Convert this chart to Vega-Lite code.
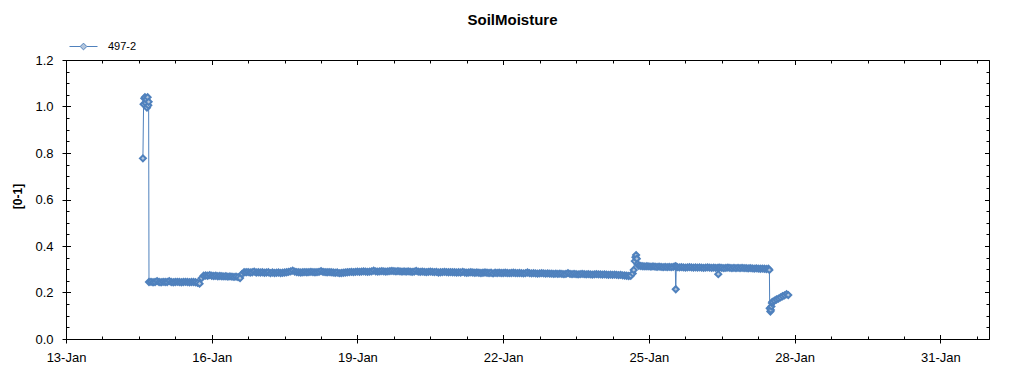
{
  "$schema": "https://vega.github.io/schema/vega-lite/v6.json",
  "width": 923,
  "height": 279,
  "autosize": "none",
  "padding": {"left": 66, "top": 60, "right": 35, "bottom": 36},
  "background": "white",
  "config": {
    "view": {"stroke": null},
    "font": "Liberation Sans",
    "axis": {"grid": false, "domainColor": "#000", "tickColor": "#000", "labelColor": "#000", "titleColor": "#000", "labelFont": "Liberation Sans", "titleFont": "Liberation Sans", "tickWidth": 1, "domainWidth": 1}
  },
  "title": {"text": "SoilMoisture", "font": "Liberation Sans", "fontSize": 15, "fontWeight": "bold", "color": "#000", "anchor": "middle", "frame": "group", "dx": -15, "dy": 15, "offset": 7, "baseline": "alphabetic"},
  "datasets": {
    "soil": [
      {"t": "2024-01-14T14:00", "v": 0.777},
      {"t": "2024-01-14T14:20", "v": 1.01},
      {"t": "2024-01-14T14:40", "v": 1.035},
      {"t": "2024-01-14T15:00", "v": 1.04},
      {"t": "2024-01-14T15:20", "v": 1.015},
      {"t": "2024-01-14T15:40", "v": 1.03},
      {"t": "2024-01-14T16:00", "v": 0.995},
      {"t": "2024-01-14T16:20", "v": 1.04},
      {"t": "2024-01-14T16:40", "v": 1.005},
      {"t": "2024-01-14T16:50", "v": 1.02},
      {"t": "2024-01-14T17:00", "v": 0.245},
      {"t": "2024-01-14T18:00", "v": 0.246},
      {"t": "2024-01-14T19:00", "v": 0.244},
      {"t": "2024-01-14T20:00", "v": 0.245},
      {"t": "2024-01-14T21:00", "v": 0.249},
      {"t": "2024-01-14T22:00", "v": 0.245},
      {"t": "2024-01-14T23:00", "v": 0.244},
      {"t": "2024-01-15T00:00", "v": 0.246},
      {"t": "2024-01-15T01:00", "v": 0.245},
      {"t": "2024-01-15T02:00", "v": 0.245},
      {"t": "2024-01-15T03:00", "v": 0.249},
      {"t": "2024-01-15T04:00", "v": 0.245},
      {"t": "2024-01-15T05:00", "v": 0.244},
      {"t": "2024-01-15T06:00", "v": 0.245},
      {"t": "2024-01-15T07:00", "v": 0.246},
      {"t": "2024-01-15T08:00", "v": 0.245},
      {"t": "2024-01-15T09:00", "v": 0.244},
      {"t": "2024-01-15T10:00", "v": 0.245},
      {"t": "2024-01-15T11:00", "v": 0.246},
      {"t": "2024-01-15T12:00", "v": 0.245},
      {"t": "2024-01-15T13:00", "v": 0.244},
      {"t": "2024-01-15T14:00", "v": 0.245},
      {"t": "2024-01-15T15:00", "v": 0.245},
      {"t": "2024-01-15T16:00", "v": 0.244},
      {"t": "2024-01-15T17:00", "v": 0.242},
      {"t": "2024-01-15T18:00", "v": 0.238},
      {"t": "2024-01-15T19:00", "v": 0.262},
      {"t": "2024-01-15T20:00", "v": 0.272},
      {"t": "2024-01-15T21:00", "v": 0.273},
      {"t": "2024-01-15T22:00", "v": 0.272},
      {"t": "2024-01-15T23:00", "v": 0.275},
      {"t": "2024-01-16T00:00", "v": 0.272},
      {"t": "2024-01-16T01:00", "v": 0.271},
      {"t": "2024-01-16T02:00", "v": 0.272},
      {"t": "2024-01-16T03:00", "v": 0.270},
      {"t": "2024-01-16T04:00", "v": 0.271},
      {"t": "2024-01-16T05:00", "v": 0.270},
      {"t": "2024-01-16T06:00", "v": 0.269},
      {"t": "2024-01-16T07:00", "v": 0.270},
      {"t": "2024-01-16T08:00", "v": 0.268},
      {"t": "2024-01-16T09:00", "v": 0.269},
      {"t": "2024-01-16T10:00", "v": 0.268},
      {"t": "2024-01-16T11:00", "v": 0.267},
      {"t": "2024-01-16T12:00", "v": 0.268},
      {"t": "2024-01-16T13:00", "v": 0.266},
      {"t": "2024-01-16T14:00", "v": 0.262},
      {"t": "2024-01-16T15:00", "v": 0.280},
      {"t": "2024-01-16T16:00", "v": 0.287},
      {"t": "2024-01-16T17:00", "v": 0.287},
      {"t": "2024-01-16T18:00", "v": 0.288},
      {"t": "2024-01-16T19:00", "v": 0.286},
      {"t": "2024-01-16T20:00", "v": 0.287},
      {"t": "2024-01-16T21:00", "v": 0.290},
      {"t": "2024-01-16T22:00", "v": 0.286},
      {"t": "2024-01-16T23:00", "v": 0.287},
      {"t": "2024-01-17T00:00", "v": 0.286},
      {"t": "2024-01-17T01:00", "v": 0.287},
      {"t": "2024-01-17T02:00", "v": 0.285},
      {"t": "2024-01-17T03:00", "v": 0.286},
      {"t": "2024-01-17T04:00", "v": 0.287},
      {"t": "2024-01-17T05:00", "v": 0.283},
      {"t": "2024-01-17T06:00", "v": 0.286},
      {"t": "2024-01-17T07:00", "v": 0.284},
      {"t": "2024-01-17T08:00", "v": 0.285},
      {"t": "2024-01-17T09:00", "v": 0.286},
      {"t": "2024-01-17T10:00", "v": 0.284},
      {"t": "2024-01-17T11:00", "v": 0.285},
      {"t": "2024-01-17T12:00", "v": 0.286},
      {"t": "2024-01-17T13:00", "v": 0.287},
      {"t": "2024-01-17T14:00", "v": 0.289},
      {"t": "2024-01-17T15:00", "v": 0.291},
      {"t": "2024-01-17T16:00", "v": 0.294},
      {"t": "2024-01-17T17:00", "v": 0.290},
      {"t": "2024-01-17T18:00", "v": 0.288},
      {"t": "2024-01-17T19:00", "v": 0.287},
      {"t": "2024-01-17T20:00", "v": 0.286},
      {"t": "2024-01-17T21:00", "v": 0.287},
      {"t": "2024-01-17T22:00", "v": 0.288},
      {"t": "2024-01-17T23:00", "v": 0.287},
      {"t": "2024-01-18T00:00", "v": 0.288},
      {"t": "2024-01-18T01:00", "v": 0.289},
      {"t": "2024-01-18T02:00", "v": 0.288},
      {"t": "2024-01-18T03:00", "v": 0.287},
      {"t": "2024-01-18T04:00", "v": 0.288},
      {"t": "2024-01-18T05:00", "v": 0.289},
      {"t": "2024-01-18T06:00", "v": 0.292},
      {"t": "2024-01-18T07:00", "v": 0.289},
      {"t": "2024-01-18T08:00", "v": 0.288},
      {"t": "2024-01-18T09:00", "v": 0.287},
      {"t": "2024-01-18T10:00", "v": 0.288},
      {"t": "2024-01-18T11:00", "v": 0.287},
      {"t": "2024-01-18T12:00", "v": 0.286},
      {"t": "2024-01-18T13:00", "v": 0.285},
      {"t": "2024-01-18T14:00", "v": 0.286},
      {"t": "2024-01-18T15:00", "v": 0.283},
      {"t": "2024-01-18T16:00", "v": 0.284},
      {"t": "2024-01-18T17:00", "v": 0.285},
      {"t": "2024-01-18T18:00", "v": 0.286},
      {"t": "2024-01-18T19:00", "v": 0.287},
      {"t": "2024-01-18T20:00", "v": 0.288},
      {"t": "2024-01-18T21:00", "v": 0.289},
      {"t": "2024-01-18T22:00", "v": 0.288},
      {"t": "2024-01-18T23:00", "v": 0.289},
      {"t": "2024-01-19T00:00", "v": 0.290},
      {"t": "2024-01-19T01:00", "v": 0.289},
      {"t": "2024-01-19T02:00", "v": 0.290},
      {"t": "2024-01-19T03:00", "v": 0.291},
      {"t": "2024-01-19T04:00", "v": 0.290},
      {"t": "2024-01-19T05:00", "v": 0.289},
      {"t": "2024-01-19T06:00", "v": 0.290},
      {"t": "2024-01-19T07:00", "v": 0.291},
      {"t": "2024-01-19T08:00", "v": 0.294},
      {"t": "2024-01-19T09:00", "v": 0.291},
      {"t": "2024-01-19T10:00", "v": 0.290},
      {"t": "2024-01-19T11:00", "v": 0.291},
      {"t": "2024-01-19T12:00", "v": 0.292},
      {"t": "2024-01-19T13:00", "v": 0.291},
      {"t": "2024-01-19T14:00", "v": 0.290},
      {"t": "2024-01-19T15:00", "v": 0.291},
      {"t": "2024-01-19T16:00", "v": 0.292},
      {"t": "2024-01-19T17:00", "v": 0.293},
      {"t": "2024-01-19T18:00", "v": 0.292},
      {"t": "2024-01-19T19:00", "v": 0.291},
      {"t": "2024-01-19T20:00", "v": 0.292},
      {"t": "2024-01-19T21:00", "v": 0.291},
      {"t": "2024-01-19T22:00", "v": 0.290},
      {"t": "2024-01-19T23:00", "v": 0.291},
      {"t": "2024-01-20T00:00", "v": 0.290},
      {"t": "2024-01-20T01:00", "v": 0.291},
      {"t": "2024-01-20T02:00", "v": 0.290},
      {"t": "2024-01-20T03:00", "v": 0.289},
      {"t": "2024-01-20T04:00", "v": 0.290},
      {"t": "2024-01-20T05:00", "v": 0.293},
      {"t": "2024-01-20T06:00", "v": 0.290},
      {"t": "2024-01-20T07:00", "v": 0.289},
      {"t": "2024-01-20T08:00", "v": 0.290},
      {"t": "2024-01-20T09:00", "v": 0.289},
      {"t": "2024-01-20T10:00", "v": 0.288},
      {"t": "2024-01-20T11:00", "v": 0.289},
      {"t": "2024-01-20T12:00", "v": 0.290},
      {"t": "2024-01-20T13:00", "v": 0.289},
      {"t": "2024-01-20T14:00", "v": 0.288},
      {"t": "2024-01-20T15:00", "v": 0.289},
      {"t": "2024-01-20T16:00", "v": 0.286},
      {"t": "2024-01-20T17:00", "v": 0.287},
      {"t": "2024-01-20T18:00", "v": 0.288},
      {"t": "2024-01-20T19:00", "v": 0.289},
      {"t": "2024-01-20T20:00", "v": 0.288},
      {"t": "2024-01-20T21:00", "v": 0.287},
      {"t": "2024-01-20T22:00", "v": 0.288},
      {"t": "2024-01-20T23:00", "v": 0.287},
      {"t": "2024-01-21T00:00", "v": 0.287},
      {"t": "2024-01-21T01:00", "v": 0.286},
      {"t": "2024-01-21T02:00", "v": 0.287},
      {"t": "2024-01-21T03:00", "v": 0.286},
      {"t": "2024-01-21T04:00", "v": 0.289},
      {"t": "2024-01-21T05:00", "v": 0.286},
      {"t": "2024-01-21T06:00", "v": 0.285},
      {"t": "2024-01-21T07:00", "v": 0.286},
      {"t": "2024-01-21T08:00", "v": 0.287},
      {"t": "2024-01-21T09:00", "v": 0.286},
      {"t": "2024-01-21T10:00", "v": 0.285},
      {"t": "2024-01-21T11:00", "v": 0.286},
      {"t": "2024-01-21T12:00", "v": 0.285},
      {"t": "2024-01-21T13:00", "v": 0.284},
      {"t": "2024-01-21T14:00", "v": 0.285},
      {"t": "2024-01-21T15:00", "v": 0.286},
      {"t": "2024-01-21T16:00", "v": 0.285},
      {"t": "2024-01-21T17:00", "v": 0.284},
      {"t": "2024-01-21T18:00", "v": 0.285},
      {"t": "2024-01-21T19:00", "v": 0.282},
      {"t": "2024-01-21T20:00", "v": 0.285},
      {"t": "2024-01-21T21:00", "v": 0.284},
      {"t": "2024-01-21T22:00", "v": 0.285},
      {"t": "2024-01-21T23:00", "v": 0.284},
      {"t": "2024-01-22T00:00", "v": 0.284},
      {"t": "2024-01-22T01:00", "v": 0.285},
      {"t": "2024-01-22T02:00", "v": 0.284},
      {"t": "2024-01-22T03:00", "v": 0.283},
      {"t": "2024-01-22T04:00", "v": 0.284},
      {"t": "2024-01-22T05:00", "v": 0.285},
      {"t": "2024-01-22T06:00", "v": 0.284},
      {"t": "2024-01-22T07:00", "v": 0.283},
      {"t": "2024-01-22T08:00", "v": 0.284},
      {"t": "2024-01-22T09:00", "v": 0.283},
      {"t": "2024-01-22T10:00", "v": 0.282},
      {"t": "2024-01-22T11:00", "v": 0.283},
      {"t": "2024-01-22T12:00", "v": 0.286},
      {"t": "2024-01-22T13:00", "v": 0.283},
      {"t": "2024-01-22T14:00", "v": 0.282},
      {"t": "2024-01-22T15:00", "v": 0.283},
      {"t": "2024-01-22T16:00", "v": 0.282},
      {"t": "2024-01-22T17:00", "v": 0.281},
      {"t": "2024-01-22T18:00", "v": 0.282},
      {"t": "2024-01-22T19:00", "v": 0.283},
      {"t": "2024-01-22T20:00", "v": 0.282},
      {"t": "2024-01-22T21:00", "v": 0.281},
      {"t": "2024-01-22T22:00", "v": 0.282},
      {"t": "2024-01-22T23:00", "v": 0.281},
      {"t": "2024-01-23T00:00", "v": 0.281},
      {"t": "2024-01-23T01:00", "v": 0.280},
      {"t": "2024-01-23T02:00", "v": 0.281},
      {"t": "2024-01-23T03:00", "v": 0.280},
      {"t": "2024-01-23T04:00", "v": 0.281},
      {"t": "2024-01-23T05:00", "v": 0.280},
      {"t": "2024-01-23T06:00", "v": 0.279},
      {"t": "2024-01-23T07:00", "v": 0.280},
      {"t": "2024-01-23T08:00", "v": 0.283},
      {"t": "2024-01-23T09:00", "v": 0.280},
      {"t": "2024-01-23T10:00", "v": 0.279},
      {"t": "2024-01-23T11:00", "v": 0.280},
      {"t": "2024-01-23T12:00", "v": 0.279},
      {"t": "2024-01-23T13:00", "v": 0.278},
      {"t": "2024-01-23T14:00", "v": 0.279},
      {"t": "2024-01-23T15:00", "v": 0.280},
      {"t": "2024-01-23T16:00", "v": 0.279},
      {"t": "2024-01-23T17:00", "v": 0.278},
      {"t": "2024-01-23T18:00", "v": 0.279},
      {"t": "2024-01-23T19:00", "v": 0.278},
      {"t": "2024-01-23T20:00", "v": 0.277},
      {"t": "2024-01-23T21:00", "v": 0.278},
      {"t": "2024-01-23T22:00", "v": 0.279},
      {"t": "2024-01-23T23:00", "v": 0.278},
      {"t": "2024-01-24T00:00", "v": 0.278},
      {"t": "2024-01-24T01:00", "v": 0.277},
      {"t": "2024-01-24T02:00", "v": 0.278},
      {"t": "2024-01-24T03:00", "v": 0.277},
      {"t": "2024-01-24T04:00", "v": 0.276},
      {"t": "2024-01-24T05:00", "v": 0.277},
      {"t": "2024-01-24T06:00", "v": 0.276},
      {"t": "2024-01-24T07:00", "v": 0.277},
      {"t": "2024-01-24T08:00", "v": 0.276},
      {"t": "2024-01-24T09:00", "v": 0.275},
      {"t": "2024-01-24T10:00", "v": 0.276},
      {"t": "2024-01-24T11:00", "v": 0.274},
      {"t": "2024-01-24T12:00", "v": 0.273},
      {"t": "2024-01-24T13:00", "v": 0.272},
      {"t": "2024-01-24T14:00", "v": 0.271},
      {"t": "2024-01-24T15:00", "v": 0.272},
      {"t": "2024-01-24T16:00", "v": 0.282},
      {"t": "2024-01-24T16:30", "v": 0.297},
      {"t": "2024-01-24T17:00", "v": 0.335},
      {"t": "2024-01-24T17:20", "v": 0.352},
      {"t": "2024-01-24T17:40", "v": 0.361},
      {"t": "2024-01-24T18:00", "v": 0.345},
      {"t": "2024-01-24T18:30", "v": 0.322},
      {"t": "2024-01-24T19:00", "v": 0.315},
      {"t": "2024-01-24T20:00", "v": 0.314},
      {"t": "2024-01-24T21:00", "v": 0.313},
      {"t": "2024-01-24T22:00", "v": 0.312},
      {"t": "2024-01-24T23:00", "v": 0.313},
      {"t": "2024-01-25T00:00", "v": 0.312},
      {"t": "2024-01-25T01:00", "v": 0.311},
      {"t": "2024-01-25T02:00", "v": 0.312},
      {"t": "2024-01-25T03:00", "v": 0.311},
      {"t": "2024-01-25T04:00", "v": 0.310},
      {"t": "2024-01-25T05:00", "v": 0.311},
      {"t": "2024-01-25T06:00", "v": 0.310},
      {"t": "2024-01-25T07:00", "v": 0.309},
      {"t": "2024-01-25T08:00", "v": 0.310},
      {"t": "2024-01-25T09:00", "v": 0.309},
      {"t": "2024-01-25T10:00", "v": 0.310},
      {"t": "2024-01-25T11:00", "v": 0.309},
      {"t": "2024-01-25T12:00", "v": 0.310},
      {"t": "2024-01-25T13:00", "v": 0.313},
      {"t": "2024-01-25T13:15", "v": 0.214},
      {"t": "2024-01-25T13:30", "v": 0.311},
      {"t": "2024-01-25T14:00", "v": 0.309},
      {"t": "2024-01-25T15:00", "v": 0.308},
      {"t": "2024-01-25T16:00", "v": 0.309},
      {"t": "2024-01-25T17:00", "v": 0.308},
      {"t": "2024-01-25T18:00", "v": 0.307},
      {"t": "2024-01-25T19:00", "v": 0.308},
      {"t": "2024-01-25T20:00", "v": 0.309},
      {"t": "2024-01-25T21:00", "v": 0.308},
      {"t": "2024-01-25T22:00", "v": 0.307},
      {"t": "2024-01-25T23:00", "v": 0.308},
      {"t": "2024-01-26T00:00", "v": 0.307},
      {"t": "2024-01-26T01:00", "v": 0.308},
      {"t": "2024-01-26T02:00", "v": 0.307},
      {"t": "2024-01-26T03:00", "v": 0.306},
      {"t": "2024-01-26T04:00", "v": 0.307},
      {"t": "2024-01-26T05:00", "v": 0.308},
      {"t": "2024-01-26T06:00", "v": 0.307},
      {"t": "2024-01-26T07:00", "v": 0.306},
      {"t": "2024-01-26T08:00", "v": 0.307},
      {"t": "2024-01-26T09:00", "v": 0.306},
      {"t": "2024-01-26T10:00", "v": 0.306},
      {"t": "2024-01-26T10:15", "v": 0.279},
      {"t": "2024-01-26T10:30", "v": 0.306},
      {"t": "2024-01-26T11:00", "v": 0.307},
      {"t": "2024-01-26T12:00", "v": 0.306},
      {"t": "2024-01-26T13:00", "v": 0.305},
      {"t": "2024-01-26T14:00", "v": 0.306},
      {"t": "2024-01-26T15:00", "v": 0.307},
      {"t": "2024-01-26T16:00", "v": 0.306},
      {"t": "2024-01-26T17:00", "v": 0.305},
      {"t": "2024-01-26T18:00", "v": 0.306},
      {"t": "2024-01-26T19:00", "v": 0.305},
      {"t": "2024-01-26T20:00", "v": 0.306},
      {"t": "2024-01-26T21:00", "v": 0.305},
      {"t": "2024-01-26T22:00", "v": 0.306},
      {"t": "2024-01-26T23:00", "v": 0.305},
      {"t": "2024-01-27T00:00", "v": 0.305},
      {"t": "2024-01-27T01:00", "v": 0.304},
      {"t": "2024-01-27T02:00", "v": 0.305},
      {"t": "2024-01-27T03:00", "v": 0.304},
      {"t": "2024-01-27T04:00", "v": 0.303},
      {"t": "2024-01-27T05:00", "v": 0.304},
      {"t": "2024-01-27T06:00", "v": 0.303},
      {"t": "2024-01-27T07:00", "v": 0.302},
      {"t": "2024-01-27T08:00", "v": 0.303},
      {"t": "2024-01-27T09:00", "v": 0.302},
      {"t": "2024-01-27T10:00", "v": 0.301},
      {"t": "2024-01-27T11:00", "v": 0.302},
      {"t": "2024-01-27T11:30", "v": 0.297},
      {"t": "2024-01-27T11:40", "v": 0.132},
      {"t": "2024-01-27T12:00", "v": 0.118},
      {"t": "2024-01-27T12:15", "v": 0.125},
      {"t": "2024-01-27T12:30", "v": 0.140},
      {"t": "2024-01-27T12:45", "v": 0.155},
      {"t": "2024-01-27T13:00", "v": 0.160},
      {"t": "2024-01-27T14:00", "v": 0.165},
      {"t": "2024-01-27T15:00", "v": 0.170},
      {"t": "2024-01-27T16:00", "v": 0.174},
      {"t": "2024-01-27T17:00", "v": 0.179},
      {"t": "2024-01-27T18:00", "v": 0.184},
      {"t": "2024-01-27T19:00", "v": 0.188},
      {"t": "2024-01-27T20:00", "v": 0.193},
      {"t": "2024-01-27T20:50", "v": 0.189}
    ],
    "anchor": [{"t": "2024-01-13T00:00", "v": 0}]
  },
  "layer": [
    {
      "data": {"name": "soil"},
      "mark": {"type": "line", "strokeWidth": 1, "clip": true},
      "encoding": {
        "x": {"field": "t", "type": "temporal",
          "scale": {"domain": [{"year": 2024, "month": 1, "date": 13}, {"year": 2024, "month": 2, "date": 1}]},
          "axis": {"orient": "bottom", "title": null, "format": "%d-%b", "labelFontSize": 13, "labelPadding": 8, "tickSize": 4, "labelFlush": false, "labelOverlap": false,
            "values": [{"year": 2024, "month": 1, "date": 13}, {"year": 2024, "month": 1, "date": 16}, {"year": 2024, "month": 1, "date": 19}, {"year": 2024, "month": 1, "date": 22}, {"year": 2024, "month": 1, "date": 25}, {"year": 2024, "month": 1, "date": 28}, {"year": 2024, "month": 1, "date": 31}]}},
        "y": {"field": "v", "type": "quantitative",
          "scale": {"domain": [0, 1.2], "nice": false, "zero": false},
          "axis": {"orient": "left", "title": "[0-1]", "titleFontSize": 12, "titleFontWeight": "bold", "titleX": -49, "titleY": 136, "titleAngle": 270, "titleBaseline": "middle", "titleAlign": "center",
            "format": ".1f", "labelFontSize": 13, "labelPadding": 9, "tickSize": 4, "labelFlush": false, "labelOverlap": false,
            "values": [0, 0.2, 0.4, 0.6, 0.8, 1.0, 1.2]}},
        "stroke": {"datum": "497-2", "type": "nominal",
          "scale": {"range": ["#4f81bd"]},
          "legend": {"orient": "none", "legendX": 3, "legendY": -28, "title": null, "padding": 0,
            "symbolType": "M-1,0H-0.24M0.24,0H1M0,-0.24L0.24,0L0,0.24L-0.24,0Z", "symbolSize": 784, "symbolStrokeWidth": 1, "symbolFillColor": "#b4c6dc",
            "labelFontSize": 11, "labelFont": "Liberation Sans", "labelColor": "#000", "labelOffset": 10}}
      }
    },
    {
      "data": {"name": "soil"},
      "mark": {"type": "point", "shape": "diamond", "size": 36, "filled": true, "fill": "#b4c6dc", "stroke": "#4f81bd", "strokeWidth": 2, "opacity": 1},
      "encoding": {
        "x": {"field": "t", "type": "temporal",
          "axis": {"orient": "bottom", "title": null, "labels": false, "domain": false, "tickSize": -4.5,
            "values": [{"year": 2024, "month": 1, "date": 13}, {"year": 2024, "month": 1, "date": 16}, {"year": 2024, "month": 1, "date": 19}, {"year": 2024, "month": 1, "date": 22}, {"year": 2024, "month": 1, "date": 25}, {"year": 2024, "month": 1, "date": 28}, {"year": 2024, "month": 1, "date": 31}]}},
        "y": {"field": "v", "type": "quantitative",
          "axis": {"orient": "left", "title": null, "labels": false, "domain": false, "tickSize": -4.5, "values": [0, 0.2, 0.4, 0.6, 0.8, 1.0, 1.2]}}
      }
    },
    {
      "data": {"name": "anchor"},
      "mark": {"type": "point", "opacity": 0},
      "encoding": {
        "x": {"field": "t", "type": "temporal",
          "axis": {"orient": "bottom", "title": null, "labels": false, "domain": false, "tickSize": -3,
            "values": [{"year": 2024, "month": 1, "date": 13, "hours": 18}, {"year": 2024, "month": 1, "date": 14, "hours": 12}, {"year": 2024, "month": 1, "date": 15, "hours": 6}, {"year": 2024, "month": 1, "date": 16, "hours": 18}, {"year": 2024, "month": 1, "date": 17, "hours": 12}, {"year": 2024, "month": 1, "date": 18, "hours": 6}, {"year": 2024, "month": 1, "date": 19, "hours": 18}, {"year": 2024, "month": 1, "date": 20, "hours": 12}, {"year": 2024, "month": 1, "date": 21, "hours": 6}, {"year": 2024, "month": 1, "date": 22, "hours": 18}, {"year": 2024, "month": 1, "date": 23, "hours": 12}, {"year": 2024, "month": 1, "date": 24, "hours": 6}, {"year": 2024, "month": 1, "date": 25, "hours": 18}, {"year": 2024, "month": 1, "date": 26, "hours": 12}, {"year": 2024, "month": 1, "date": 27, "hours": 6}, {"year": 2024, "month": 1, "date": 28, "hours": 18}, {"year": 2024, "month": 1, "date": 29, "hours": 12}, {"year": 2024, "month": 1, "date": 30, "hours": 6}, {"year": 2024, "month": 1, "date": 31, "hours": 18}]}},
        "y": {"field": "v", "type": "quantitative",
          "axis": {"orient": "left", "title": null, "labels": false, "domain": false, "tickSize": -3,
            "values": [0.05, 0.1, 0.15, 0.25, 0.3, 0.35, 0.45, 0.5, 0.55, 0.65, 0.7, 0.75, 0.85, 0.9, 0.95, 1.05, 1.1, 1.15]}}
      }
    },
    {
      "data": {"name": "anchor"},
      "mark": {"type": "point", "opacity": 0},
      "encoding": {
        "x": {"field": "t", "type": "temporal",
          "axis": {"orient": "top", "title": null, "labels": false, "domain": true, "tickSize": -4.5,
            "values": [{"year": 2024, "month": 1, "date": 13}, {"year": 2024, "month": 1, "date": 16}, {"year": 2024, "month": 1, "date": 19}, {"year": 2024, "month": 1, "date": 22}, {"year": 2024, "month": 1, "date": 25}, {"year": 2024, "month": 1, "date": 28}, {"year": 2024, "month": 1, "date": 31}]}},
        "y": {"field": "v", "type": "quantitative",
          "axis": {"orient": "right", "title": null, "labels": false, "domain": true, "tickSize": -4.5, "values": [0, 0.2, 0.4, 0.6, 0.8, 1.0, 1.2]}}
      }
    },
    {
      "data": {"name": "anchor"},
      "mark": {"type": "point", "opacity": 0},
      "encoding": {
        "x": {"field": "t", "type": "temporal",
          "axis": {"orient": "top", "title": null, "labels": false, "domain": false, "tickSize": -3,
            "values": [{"year": 2024, "month": 1, "date": 13, "hours": 18}, {"year": 2024, "month": 1, "date": 14, "hours": 12}, {"year": 2024, "month": 1, "date": 15, "hours": 6}, {"year": 2024, "month": 1, "date": 16, "hours": 18}, {"year": 2024, "month": 1, "date": 17, "hours": 12}, {"year": 2024, "month": 1, "date": 18, "hours": 6}, {"year": 2024, "month": 1, "date": 19, "hours": 18}, {"year": 2024, "month": 1, "date": 20, "hours": 12}, {"year": 2024, "month": 1, "date": 21, "hours": 6}, {"year": 2024, "month": 1, "date": 22, "hours": 18}, {"year": 2024, "month": 1, "date": 23, "hours": 12}, {"year": 2024, "month": 1, "date": 24, "hours": 6}, {"year": 2024, "month": 1, "date": 25, "hours": 18}, {"year": 2024, "month": 1, "date": 26, "hours": 12}, {"year": 2024, "month": 1, "date": 27, "hours": 6}, {"year": 2024, "month": 1, "date": 28, "hours": 18}, {"year": 2024, "month": 1, "date": 29, "hours": 12}, {"year": 2024, "month": 1, "date": 30, "hours": 6}, {"year": 2024, "month": 1, "date": 31, "hours": 18}]}},
        "y": {"field": "v", "type": "quantitative",
          "axis": {"orient": "right", "title": null, "labels": false, "domain": false, "tickSize": -3,
            "values": [0.05, 0.1, 0.15, 0.25, 0.3, 0.35, 0.45, 0.5, 0.55, 0.65, 0.7, 0.75, 0.85, 0.9, 0.95, 1.05, 1.1, 1.15]}}
      }
    }
  ],
  "resolve": {"axis": {"x": "independent", "y": "independent"}}
}
